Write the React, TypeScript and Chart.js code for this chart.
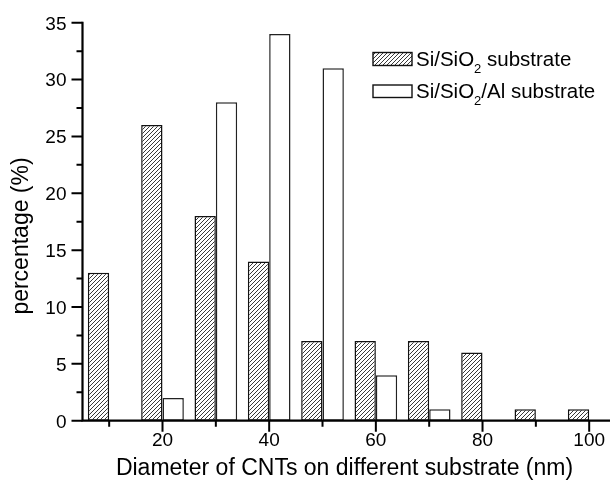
import React, { useEffect, useRef } from "react";
import { Chart, registerables } from "chart.js";

Chart.register(...registerables);

// ---- data ----
const diameters = [10, 20, 30, 40, 50, 60, 70, 80, 90, 100];
const siSio2Values = [13, 26, 18, 14, 7, 7, 7, 6, 1, 1];
const alDiameters = [20, 30, 40, 50, 60, 70];
const siSio2AlValues = [2, 28, 34, 31, 4, 1];

const xMajorTicks = [20, 40, 60, 80, 100];
const xMinorTicks = [10, 30, 50, 70, 90];
const yMajorTicks = [0, 5, 10, 15, 20, 25, 30, 35];
const yMinorTicks = [2.5, 7.5, 12.5, 17.5, 22.5, 27.5, 32.5];

const xTitle = "Diameter of CNTs on different substrate (nm)";
const yTitle = "percentage (%)";
const legendSeries1 = ["Si/SiO", "2", " substrate"];
const legendSeries2 = ["Si/SiO", "2", "/Al substrate"];

const FONT = "'Liberation Sans', Arial, Helvetica, sans-serif";

function makeHatch(ctx: CanvasRenderingContext2D): CanvasPattern | string {
  const s = 4;
  const c = document.createElement("canvas");
  c.width = s;
  c.height = s;
  const g = c.getContext("2d");
  if (!g) return "#999";
  g.fillStyle = "#ffffff";
  g.fillRect(0, 0, s, s);
  g.strokeStyle = "#3a3a3a";
  g.lineWidth = 1;
  g.beginPath();
  g.moveTo(-1, s + 1);
  g.lineTo(s + 1, -1);
  g.moveTo(-1, 1);
  g.lineTo(1, -1);
  g.moveTo(s - 1, s + 1);
  g.lineTo(s + 1, s - 1);
  g.stroke();
  return ctx.createPattern(c, "repeat") || "#999";
}

function drawLegendText(
  ctx: CanvasRenderingContext2D,
  parts: string[],
  x: number,
  baseline: number
) {
  ctx.textAlign = "left";
  ctx.textBaseline = "alphabetic";
  ctx.font = `20.5px ${FONT}`;
  ctx.fillText(parts[0], x, baseline);
  let cx = x + ctx.measureText(parts[0]).width;
  ctx.font = `13px ${FONT}`;
  ctx.fillText(parts[1], cx, baseline + 7);
  cx += ctx.measureText(parts[1]).width;
  ctx.font = `20.5px ${FONT}`;
  ctx.fillText(parts[2], cx, baseline);
}

export default function App() {
  const canvasRef = useRef<HTMLCanvasElement | null>(null);

  useEffect(() => {
    document.body.style.margin = "0";
    const canvas = canvasRef.current;
    if (!canvas) return;
    const ctx = canvas.getContext("2d");
    if (!ctx) return;
    const hatch = makeHatch(ctx);

    const axesPlugin = {
      id: "customAxes",
      afterDraw(chart: any) {
        const c: CanvasRenderingContext2D = chart.ctx;
        const xs = chart.scales.x;
        const ys = chart.scales.y;
        const area = chart.chartArea;
        const left = area.left;
        const y0 = ys.getPixelForValue(0);
        const yTop = ys.getPixelForValue(35);
        c.save();
        c.strokeStyle = "#000";
        c.fillStyle = "#000";
        // axis lines
        c.lineWidth = 2.2;
        c.beginPath();
        c.moveTo(left, yTop - 1);
        c.lineTo(left, y0 + 1);
        c.moveTo(left - 1, y0);
        c.lineTo(area.right, y0);
        c.stroke();
        // ticks
        c.lineWidth = 2;
        c.beginPath();
        yMajorTicks.forEach((v) => {
          const p = ys.getPixelForValue(v);
          c.moveTo(left - 11, p);
          c.lineTo(left, p);
        });
        yMinorTicks.forEach((v) => {
          const p = ys.getPixelForValue(v);
          c.moveTo(left - 6, p);
          c.lineTo(left, p);
        });
        xMajorTicks.forEach((v) => {
          const p = xs.getPixelForValue(v);
          c.moveTo(p, y0);
          c.lineTo(p, y0 + 11);
        });
        xMinorTicks.forEach((v) => {
          const p = xs.getPixelForValue(v);
          c.moveTo(p, y0);
          c.lineTo(p, y0 + 6);
        });
        c.stroke();
        // tick labels
        c.font = `19px ${FONT}`;
        c.textAlign = "right";
        c.textBaseline = "alphabetic";
        yMajorTicks.forEach((v) => {
          const p = ys.getPixelForValue(v);
          c.fillText(String(v), left - 16, p + 6.8);
        });
        c.textAlign = "center";
        xMajorTicks.forEach((v) => {
          const p = xs.getPixelForValue(v);
          c.fillText(String(v), p, y0 + 25.5);
        });
        // titles
        c.font = `23px ${FONT}`;
        c.textAlign = "center";
        c.fillText(xTitle, 344.5, y0 + 54.5);
        c.save();
        c.translate(28, 236);
        c.rotate(-Math.PI / 2);
        c.fillText(yTitle, 0, 0);
        c.restore();
        // legend
        c.lineWidth = 1.4;
        c.strokeStyle = "#111";
        c.fillStyle = hatch as any;
        c.fillRect(373, 52.5, 39, 13);
        c.strokeRect(373, 52.5, 39, 13);
        c.fillStyle = "#fff";
        c.fillRect(373, 85, 39, 12.5);
        c.strokeRect(373, 85, 39, 12.5);
        c.fillStyle = "#000";
        drawLegendText(c, legendSeries1, 416, 66);
        drawLegendText(c, legendSeries2, 416, 97.5);
        c.restore();
      },
    };

    const chart = new Chart(canvas, {
      type: "bar",
      data: {
        datasets: [
          {
            label: "Si/SiO2 substrate",
            data: diameters.map((x, i) => ({ x, y: siSio2Values[i] })),
            backgroundColor: hatch as any,
            borderColor: "#111",
            borderWidth: 1.5,
            borderSkipped: false,
          },
          {
            label: "Si/SiO2/Al substrate",
            data: alDiameters.map((x, i) => ({ x, y: siSio2AlValues[i] })),
            backgroundColor: "#ffffff",
            borderColor: "#222",
            borderWidth: 1.5,
            borderSkipped: false,
          },
        ],
      },
      options: {
        animation: false,
        responsive: false,
        devicePixelRatio: 1,
        layout: { padding: { left: 82.5, top: 22.7, right: 0, bottom: 64.3 } },
        datasets: { bar: { categoryPercentage: 0.8, barPercentage: 1 } },
        scales: {
          x: {
            type: "linear",
            min: 5,
            max: 103.9,
            offset: false,
            display: false,
            afterBuildTicks: (s: any) => {
              s.ticks = diameters.map((v) => ({ value: v }));
            },
          },
          y: { type: "linear", min: 0, max: 35, display: false },
        },
        plugins: { legend: { display: false }, tooltip: { enabled: false } },
      } as any,
      plugins: [axesPlugin],
    });

    return () => chart.destroy();
  }, []);

  return (
    <canvas
      ref={canvasRef}
      width={610}
      height={485}
      style={{ display: "block", width: 610, height: 485 }}
    />
  );
}
